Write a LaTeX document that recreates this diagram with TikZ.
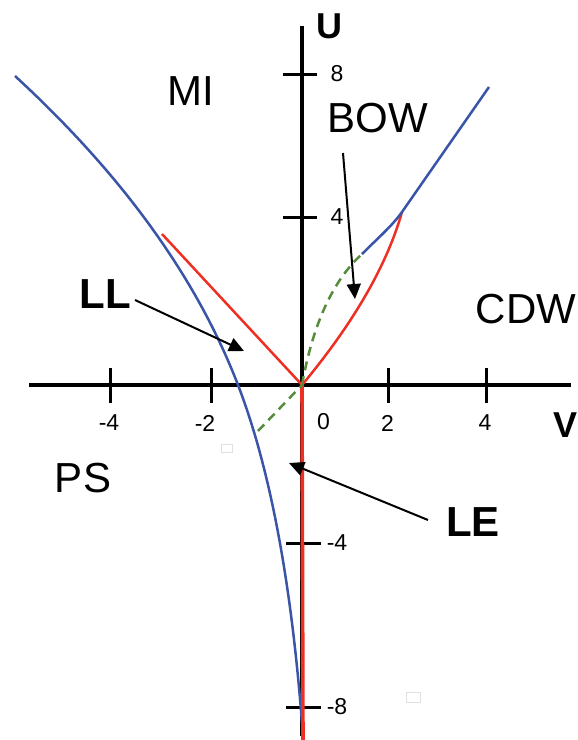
\documentclass[tikz,border=0pt]{standalone}
\usepackage{fontspec}
\setmainfont{Liberation Sans}
\usetikzlibrary{arrows.meta}
\definecolor{myred}{RGB}{238,48,36}
\definecolor{myblue}{RGB}{58,84,168}
\definecolor{mygreen}{RGB}{86,140,60}
\begin{document}
\begin{tikzpicture}[x=1pt,y=-1pt,
  axisline/.style={line width=3.5pt},
  tickline/.style={line width=3pt},
  redc/.style={draw=myred,line width=2.5pt,line join=round},
  bluec/.style={draw=myblue,line width=2.5pt,line join=round},
  greenc/.style={draw=mygreen,line width=2.5pt,dash pattern=on 9pt off 6pt},
  pointer/.style={line width=2pt,-{Triangle[length=15pt,width=14pt]}},
  region/.style={inner sep=0pt,font=\fontsize{42}{48}\selectfont},
  boldlab/.style={inner sep=0pt,font=\fontsize{42}{48}\selectfont\bfseries},
  axislab/.style={inner sep=0pt,font=\fontsize{36}{40}\selectfont\bfseries},
  ticklab/.style={inner sep=0pt,font=\fontsize{23}{26}\selectfont},
  faint/.style={draw=black!12,line width=0.8pt}
]
\useasboundingbox (0,0) rectangle (578,740);

% axes
\coordinate (O) at (302,385);
\coordinate (xl) at (29,385);
\coordinate (xr) at (571,385);
\coordinate (yt) at (302,26);
\coordinate (yb) at (302,736);
\draw[axisline] (xl) -- (xr);
\draw[axisline] (yt) -- (yb);

% ticks on V axis
\foreach \x in {110,211,388,486} \draw[tickline] (\x,368) -- (\x,403);
% ticks on U axis
\foreach \y in {74,217} \draw[tickline] (283,\y) -- (317,\y);
\foreach \y in {543,707} \draw[tickline] (286,\y) -- (321,\y);

% tick labels
\node[ticklab] (tm4) at (109,423) {-4};
\node[ticklab] (tm2) at (205,423) {-2};
\node[ticklab] (t0) at (323.5,422) {0};
\node[ticklab] (t2) at (387.5,423) {2};
\node[ticklab] (t4) at (485,423) {4};
\node[ticklab] (u8) at (337,74) {8};
\node[ticklab] (u4) at (337,217) {4};
\node[ticklab] (um4) at (337,543) {-4};
\node[ticklab] (um8) at (337,707) {-8};

% axis labels
\node[axislab] (U) at (329,26) {U};
\node[axislab] (V) at (566,425) {V};

% blue PS boundary
\coordinate (ps0) at (15,76);
\coordinate (ps1) at (238,385);
\coordinate (ps2) at (302,723);
\draw[bluec] (ps0) .. controls (122.5,174.9) and (196.8,277.9) .. (ps1)
                   .. controls (269.7,467.3) and (291,580) .. (ps2);

% red LL line
\coordinate (llend) at (162,234);
\draw[redc] (llend) -- (O);
% red LE line (covers the lower axis)
\coordinate (leend) at (303,740);
\draw[redc,line width=3.6pt] (O) -- (leend);
% red CDW boundary
\coordinate (cdwend) at (402,212);
\draw[redc] (O) .. controls (353.3,323.4) and (386.7,265.7) .. (cdwend);

% blue BOW/CDW boundary
\coordinate (bs) at (362,254);
\coordinate (bt) at (489,87);
\draw[bluec] (bs) .. controls (378,238) and (392,226) .. (cdwend) -- (bt);

% green dashed
\coordinate (gl) at (258,431);
\draw[greenc] (gl) -- (O);
\draw[greenc] (O) .. controls (312.9,324) and (332.9,280.5) .. (bs);

% region labels
\node[region] (MI) at (191,91) {MI};
\node[region] (BOW) at (378,118) {BOW};
\node[region] (CDW) at (526,309) {CDW};
\node[region] (PS) at (83,478) {PS};
\node[boldlab] (LL) at (105,294) {LL};
\node[boldlab] (LE) at (473,522) {LE};

% pointers
\coordinate (llA) at (135,300);
\coordinate (llB) at (244,351);
\draw[pointer] (llA) -- (llB);
\coordinate (bowA) at (343,153);
\coordinate (bowB) at (355,299);
\draw[pointer] (bowA) -- (bowB);
\coordinate (leA) at (428,520);
\coordinate (leB) at (289,463);
\draw[pointer] (leA) -- (leB);

% faint artefact boxes
\draw[faint] (221,444) rectangle (232,452);
\draw[faint] (406,692) rectangle (420,702);
\end{tikzpicture}
\end{document}
